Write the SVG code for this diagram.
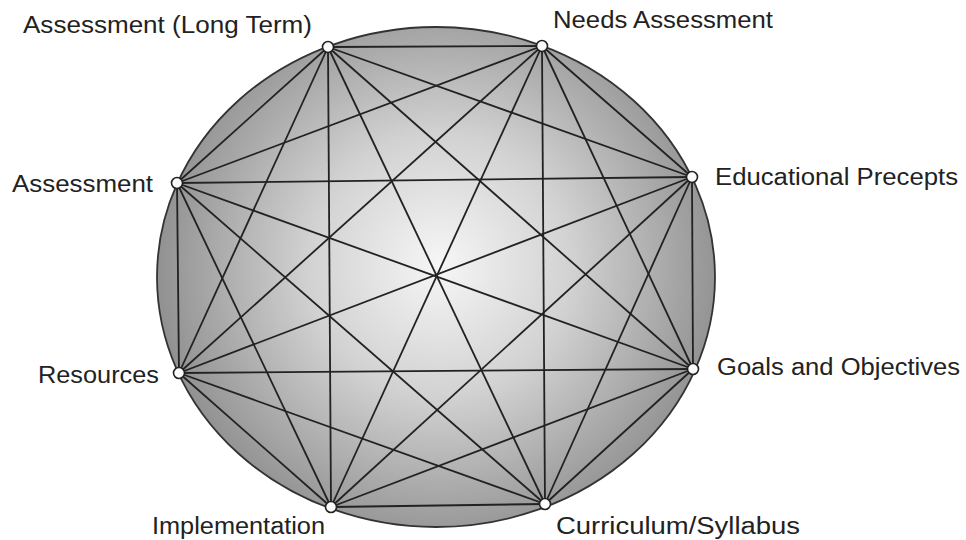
<svg xmlns="http://www.w3.org/2000/svg" width="966" height="540" viewBox="0 0 966 540">
<defs>
<radialGradient id="bg" cx="440" cy="265" r="290" gradientUnits="userSpaceOnUse">
<stop offset="0" stop-color="#f6f6f6"/>
<stop offset="0.45" stop-color="#d2d2d2"/>
<stop offset="1" stop-color="#8e8e8e"/>
</radialGradient>
<style>
.lbl{font-family:"Liberation Sans",Arial,sans-serif;font-size:23px;fill:#222}
.e line{stroke:#222;stroke-width:1.8}
.dot{fill:#fafafa;stroke:#222;stroke-width:1.6}
</style>
</defs>
<rect width="966" height="540" fill="#fff"/>
<ellipse cx="436" cy="277" rx="279" ry="250" fill="url(#bg)" stroke="#333" stroke-width="1.8"/>
<g id="connectors" class="e">
<line x1="328" y1="47" x2="542" y2="46"/>
<line x1="328" y1="47" x2="692" y2="177"/>
<line x1="328" y1="47" x2="693" y2="369"/>
<line x1="328" y1="47" x2="545" y2="504"/>
<line x1="328" y1="47" x2="331" y2="507"/>
<line x1="328" y1="47" x2="179" y2="373"/>
<line x1="328" y1="47" x2="177" y2="183"/>
<line x1="542" y1="46" x2="692" y2="177"/>
<line x1="542" y1="46" x2="693" y2="369"/>
<line x1="542" y1="46" x2="545" y2="504"/>
<line x1="542" y1="46" x2="331" y2="507"/>
<line x1="542" y1="46" x2="179" y2="373"/>
<line x1="542" y1="46" x2="177" y2="183"/>
<line x1="692" y1="177" x2="693" y2="369"/>
<line x1="692" y1="177" x2="545" y2="504"/>
<line x1="692" y1="177" x2="331" y2="507"/>
<line x1="692" y1="177" x2="179" y2="373"/>
<line x1="692" y1="177" x2="177" y2="183"/>
<line x1="693" y1="369" x2="545" y2="504"/>
<line x1="693" y1="369" x2="331" y2="507"/>
<line x1="693" y1="369" x2="179" y2="373"/>
<line x1="693" y1="369" x2="177" y2="183"/>
<line x1="545" y1="504" x2="331" y2="507"/>
<line x1="545" y1="504" x2="179" y2="373"/>
<line x1="545" y1="504" x2="177" y2="183"/>
<line x1="331" y1="507" x2="179" y2="373"/>
<line x1="331" y1="507" x2="177" y2="183"/>
<line x1="179" y1="373" x2="177" y2="183"/>
</g>
<g id="n-assessment-long-term">
<circle class="dot" cx="328" cy="47" r="5.5"/>
<text class="lbl" x="23" y="33" textLength="289" lengthAdjust="spacingAndGlyphs">Assessment (Long Term)</text>
</g>
<g id="n-needs-assessment">
<circle class="dot" cx="542" cy="46" r="5.5"/>
<text class="lbl" x="553" y="28" textLength="220" lengthAdjust="spacingAndGlyphs">Needs Assessment</text>
</g>
<g id="n-educational-precepts">
<circle class="dot" cx="692" cy="177" r="5.5"/>
<text class="lbl" x="715" y="185" textLength="243" lengthAdjust="spacingAndGlyphs">Educational Precepts</text>
</g>
<g id="n-goals-objectives">
<circle class="dot" cx="693" cy="369" r="5.5"/>
<text class="lbl" x="717" y="375" textLength="243" lengthAdjust="spacingAndGlyphs">Goals and Objectives</text>
</g>
<g id="n-curriculum-syllabus">
<circle class="dot" cx="545" cy="504" r="5.5"/>
<text class="lbl" x="556" y="534" textLength="244" lengthAdjust="spacingAndGlyphs">Curriculum/Syllabus</text>
</g>
<g id="n-implementation">
<circle class="dot" cx="331" cy="507" r="5.5"/>
<text class="lbl" x="152" y="534" textLength="173" lengthAdjust="spacingAndGlyphs">Implementation</text>
</g>
<g id="n-resources">
<circle class="dot" cx="179" cy="373" r="5.5"/>
<text class="lbl" x="38" y="383" textLength="121" lengthAdjust="spacingAndGlyphs">Resources</text>
</g>
<g id="n-assessment">
<circle class="dot" cx="177" cy="183" r="5.5"/>
<text class="lbl" x="12" y="192" textLength="141" lengthAdjust="spacingAndGlyphs">Assessment</text>
</g>
</svg>
